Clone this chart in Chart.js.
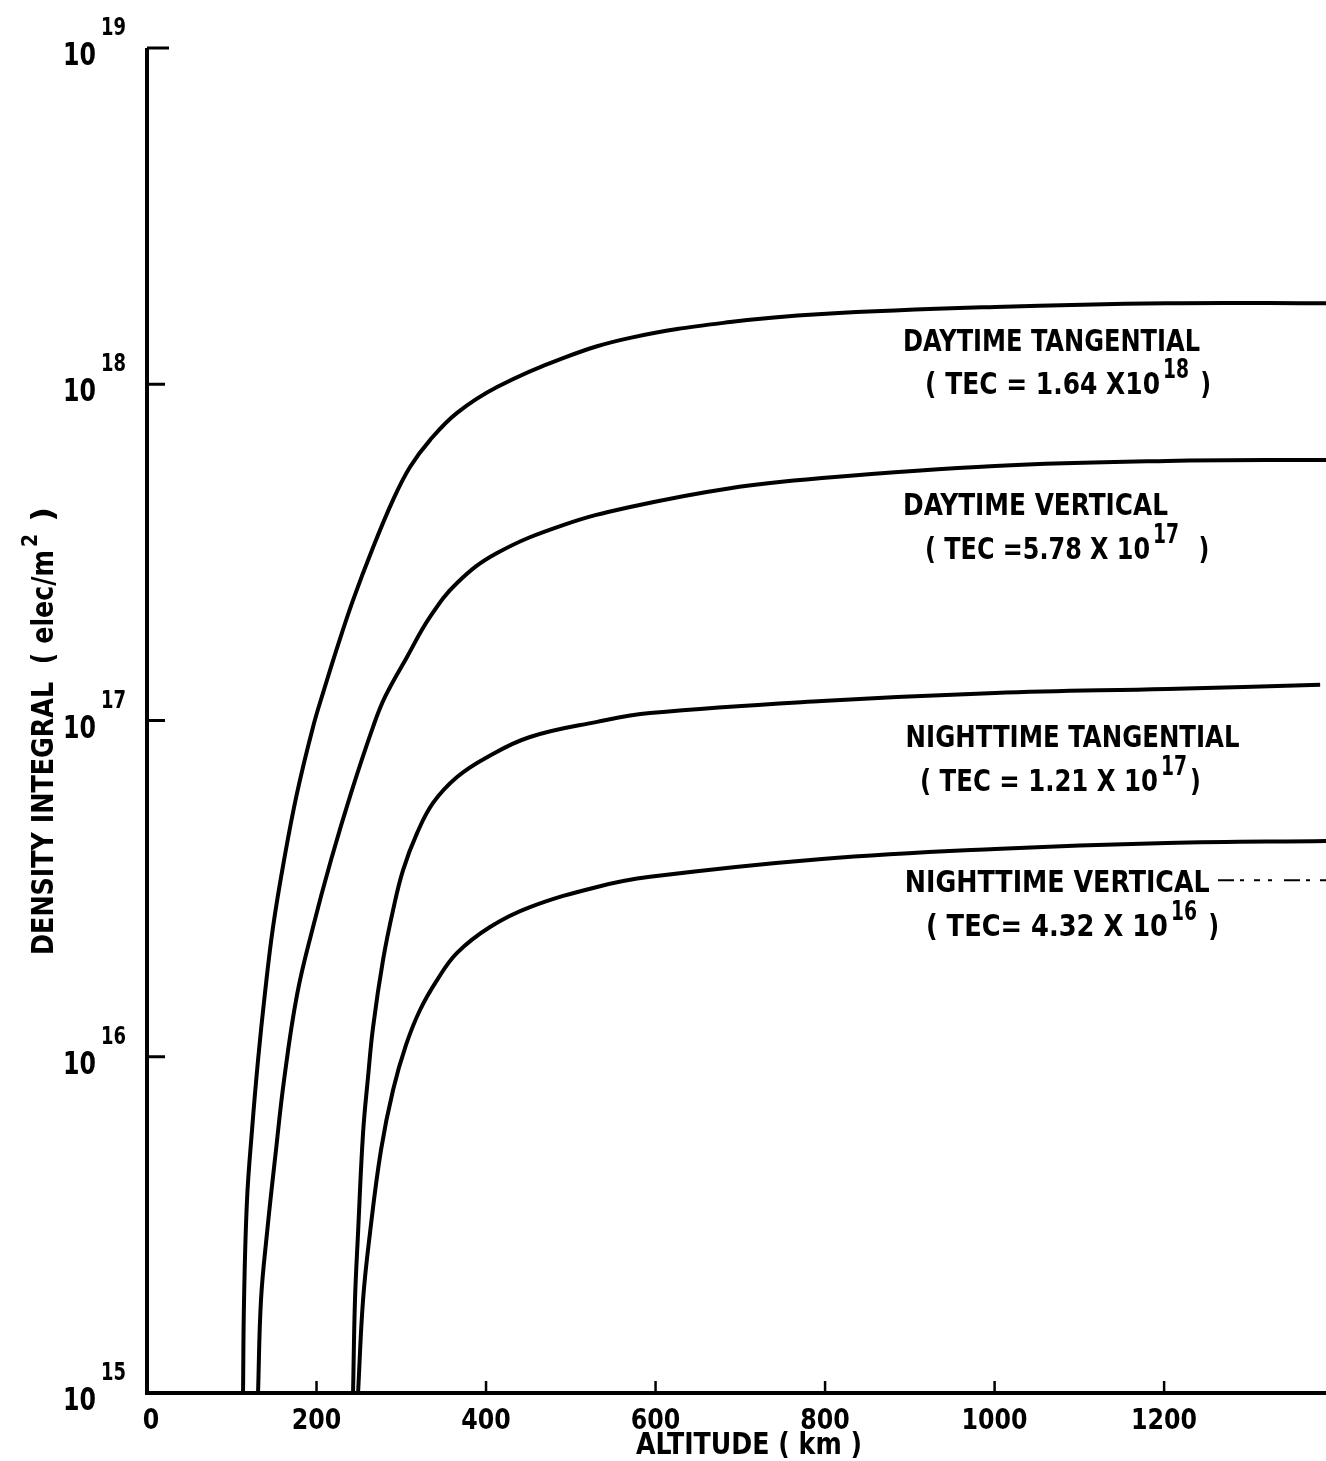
<!DOCTYPE html>
<html>
<head>
<meta charset="utf-8">
<script src="https://cdn.jsdelivr.net/npm/chart.js@4.4.1/dist/chart.umd.min.js"></script>
<style>
  body { margin: 0; background: #fff; }
  #caixa { width: 1326px; height: 1461px; }
</style>
</head>
<body>
<div id="caixa"><canvas id="grafico"></canvas></div>
<script>
// altitude (km) e log10 da integral de densidade (elec/m^2)
const altDiaTang = [113.3, 114.5, 118, 123.9, 131, 139.2, 148.7, 161.7, 177, 195.9, 208.8, 225.4, 243.1, 265.5, 290.3, 310.3, 333.9, 365.8, 413, 490.9, 570, 688, 796.5, 1000.6, 1203.5, 1391];
const logDiaTang = [15.0, 15.277, 15.574, 15.782, 15.99, 16.19, 16.386, 16.585, 16.784, 16.981, 17.091, 17.225, 17.358, 17.507, 17.656, 17.754, 17.834, 17.915, 17.992, 18.078, 18.138, 18.185, 18.209, 18.23, 18.241, 18.241];

const altDiaVert = [131, 134.5, 141.6, 152.2, 161.7, 177, 195.9, 217.1, 240.7, 266.7, 280.8, 306.8, 333.9, 365.8, 413, 490.9, 570, 688, 796.5, 1000.6, 1203.5, 1391];
const logDiaVert = [15.0, 15.277, 15.476, 15.723, 15.931, 16.184, 16.386, 16.585, 16.784, 16.981, 17.07, 17.189, 17.308, 17.409, 17.498, 17.581, 17.635, 17.691, 17.721, 17.757, 17.772, 17.775];

const altNoiteTang = [243.1, 245.4, 249, 254.9, 260.8, 266.7, 278.5, 290.3, 302.1, 318.6, 337.5, 365.8, 401.2, 451.9, 531, 593.5, 796.5, 1000.6, 1203.5, 1384.1];
const logNoiteTang = [15.0, 15.277, 15.476, 15.773, 15.94, 16.088, 16.288, 16.436, 16.555, 16.665, 16.755, 16.832, 16.891, 16.951, 16.996, 17.022, 17.058, 17.082, 17.094, 17.106];

const altNoiteVert = [249, 254.9, 263.1, 276.1, 290.3, 305.6, 322.1, 342.2, 365.8, 404.7, 451.9, 531, 593.5, 796.5, 1000.6, 1203.5, 1391];
const logNoiteVert = [15.0, 15.277, 15.476, 15.723, 15.901, 16.035, 16.139, 16.228, 16.309, 16.386, 16.445, 16.505, 16.535, 16.588, 16.618, 16.636, 16.642];

const ticksX = [0, 200, 400, 600, 800, 1000, 1200];
const expoentesY = [15, 16, 17, 18, 19];

// rotulos das curvas: km / log10 da linha de base
const titulos = [
  { txt: 'DAYTIME TANGENTIAL', km: 892, e: 18.10, w: 297 },
  { txt: 'DAYTIME VERTICAL', km: 892, e: 17.61, w: 265 },
  { txt: 'NIGHTTIME TANGENTIAL', km: 895, e: 16.92, w: 334 },
  { txt: 'NIGHTTIME VERTICAL', km: 894, e: 16.49, w: 305 }
];
const tecs = [
  { base: '( TEC = 1.64 X10', sup: '18', fim: ' )', km: 918, e: 17.97, w: 235 },
  { base: '( TEC =5.78 X 10', sup: '17', fim: '  )', km: 918, e: 17.48, w: 225 },
  { base: '( TEC = 1.21 X 10', sup: '17', fim: ')', km: 912, e: 16.79, w: 238 },
  { base: '( TEC= 4.32 X 10', sup: '16', fim: ' )', km: 919, e: 16.36, w: 242 }
];

const fonte = '"DejaVu Sans Condensed", "Liberation Sans Narrow", "DejaVu Sans", sans-serif';

function pontos(alts, logs) {
  return alts.map((a, i) => ({ x: a, y: Math.pow(10, logs[i]) }));
}

function serie(nome, alts, logs) {
  return {
    label: nome,
    data: pontos(alts, logs),
    borderColor: '#000',
    borderWidth: 4,
    pointRadius: 0,
    tension: 0.4,
    fill: false
  };
}

// escreve o texto esticado/comprimido para caber na largura w
function textoLargura(ctx, s, x, y, w) {
  const m = ctx.measureText(s).width;
  ctx.save();
  ctx.translate(x, y);
  ctx.scale(w / m, 1);
  ctx.fillText(s, 0, 0);
  ctx.restore();
}

const desenhos = {
  id: 'desenhos',
  afterDatasetsDraw(chart) {
    const ctx = chart.ctx;
    const a = chart.chartArea;
    const sx = chart.scales.x;
    const sy = chart.scales.y;
    ctx.save();
    ctx.fillStyle = '#000';
    ctx.strokeStyle = '#000';
    ctx.lineCap = 'butt';

    // eixos
    ctx.lineWidth = 4;
    ctx.beginPath();
    ctx.moveTo(a.left, a.top);
    ctx.lineTo(a.left, a.bottom);
    ctx.lineTo(a.right, a.bottom);
    ctx.stroke();

    // marcas para dentro
    ctx.lineWidth = 2.5;
    ticksX.forEach(v => {
      if (v === 0) return;
      const px = sx.getPixelForValue(v);
      ctx.beginPath();
      ctx.moveTo(px, a.bottom);
      ctx.lineTo(px, a.bottom - 12);
      ctx.stroke();
    });
    ctx.lineWidth = 3;
    expoentesY.forEach(e => {
      if (e === 15) return;
      const py = sy.getPixelForValue(Math.pow(10, e));
      ctx.beginPath();
      ctx.moveTo(a.left, py);
      ctx.lineTo(a.left + (e === 19 ? 22 : 18), py);
      ctx.stroke();
    });

    // rotulos do eixo y: 10 com expoente
    ctx.textBaseline = 'alphabetic';
    expoentesY.forEach(e => {
      const py = sy.getPixelForValue(Math.pow(10, e));
      ctx.font = 'bold 32px ' + fonte;
      ctx.textAlign = 'left';
      textoLargura(ctx, '10', a.left - 84, py + 17, 33);
      ctx.font = 'bold 25px ' + fonte;
      textoLargura(ctx, String(e), a.left - 46, py - 13, 25);
    });

    // rotulos do eixo x
    ctx.font = 'bold 29px ' + fonte;
    ticksX.forEach(v => {
      const px = sx.getPixelForValue(v);
      const s = String(v);
      const w = s.length * 16.5;
      textoLargura(ctx, s, px - w / 2 + (v === 0 ? 4 : 0), a.bottom + 36, w);
    });

    // titulo do eixo x
    ctx.font = 'bold 30px ' + fonte;
    textoLargura(ctx, 'ALTITUDE ( km )', 636, a.bottom + 61, 226);

    // titulo do eixo y, girado
    ctx.save();
    ctx.translate(53, 955);
    ctx.rotate(-Math.PI / 2);
    ctx.font = 'bold 30px ' + fonte;
    textoLargura(ctx, 'DENSITY INTEGRAL  ( elec/m', 0, 0, 405);
    ctx.font = 'bold 22px ' + fonte;
    textoLargura(ctx, '2', 408, -16, 13);
    ctx.font = 'bold 30px ' + fonte;
    textoLargura(ctx, ' )', 422, 0, 26);
    ctx.restore();

    // nomes das curvas
    ctx.font = 'bold 31px ' + fonte;
    titulos.forEach(t => {
      textoLargura(ctx, t.txt, sx.getPixelForValue(t.km), sy.getPixelForValue(Math.pow(10, t.e)), t.w);
    });
    tecs.forEach(t => {
      const x = sx.getPixelForValue(t.km);
      const y = sy.getPixelForValue(Math.pow(10, t.e));
      ctx.font = 'bold 31px ' + fonte;
      textoLargura(ctx, t.base, x, y, t.w);
      ctx.font = 'bold 26px ' + fonte;
      textoLargura(ctx, t.sup, x + t.w + 3, y - 16, 26);
      ctx.font = 'bold 31px ' + fonte;
      const wf = ctx.measureText(t.fim).width * 0.85;
      textoLargura(ctx, t.fim, x + t.w + 32, y, wf);
    });

    // tracejado depois de NIGHTTIME VERTICAL
    const yNv = sy.getPixelForValue(Math.pow(10, 16.525));
    ctx.lineWidth = 2;
    ctx.setLineDash([16, 6, 4, 10, 6, 8, 4, 12]);
    ctx.beginPath();
    ctx.moveTo(1218, yNv);
    ctx.lineTo(a.right, yNv);
    ctx.stroke();
    ctx.restore();
  }
};

const grafico = new Chart(document.getElementById('grafico'), {
  type: 'line',
  data: {
    datasets: [
      serie('DAYTIME TANGENTIAL', altDiaTang, logDiaTang),
      serie('DAYTIME VERTICAL', altDiaVert, logDiaVert),
      serie('NIGHTTIME TANGENTIAL', altNoiteTang, logNoiteTang),
      serie('NIGHTTIME VERTICAL', altNoiteVert, logNoiteVert)
    ]
  },
  options: {
    responsive: true,
    maintainAspectRatio: false,
    animation: false,
    layout: { padding: { top: 48, left: 0, right: 0, bottom: 0 } },
    plugins: { legend: { display: false }, tooltip: { enabled: false } },
    scales: {
      x: {
        type: 'linear',
        min: 0,
        max: 1391,
        grid: { display: false },
        border: { display: false },
        ticks: { display: false },
        afterFit: (s) => { s.height = 68; }
      },
      y: {
        type: 'logarithmic',
        min: 1e15,
        max: 1e19,
        grid: { display: false },
        border: { display: false },
        ticks: { display: false },
        afterFit: (s) => { s.width = 147; }
      }
    }
  },
  plugins: [desenhos]
});
</script>
</body>
</html>
